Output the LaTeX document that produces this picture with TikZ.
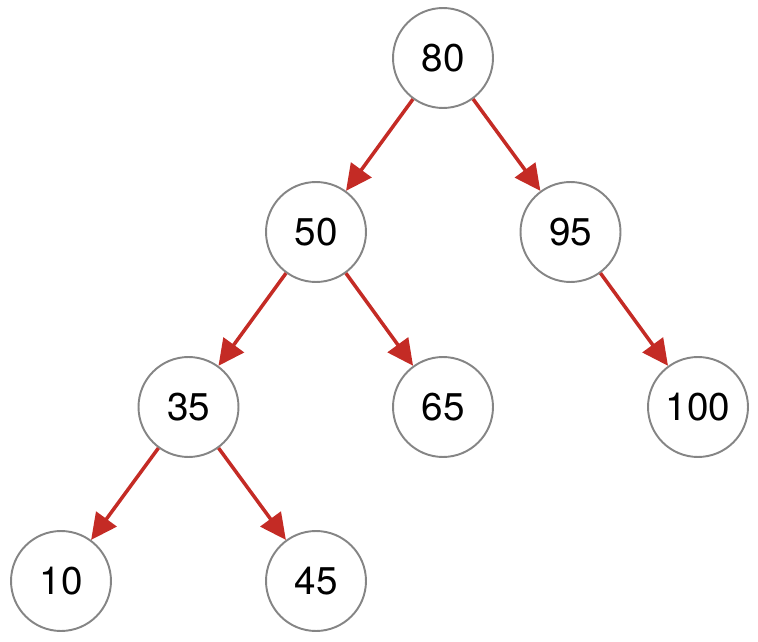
\documentclass[tikz,border=0pt]{standalone}
\usepackage{fontspec}
\setmainfont{TeX Gyre Heros}
\usetikzlibrary{arrows.meta}
\definecolor{ringgray}{HTML}{858585}
\definecolor{edgered}{HTML}{C42B25}
\tikzset{
	key/.style={circle, draw=ringgray, line width=1.1pt, fill=white, minimum size=2cm, inner sep=0pt, font=\fontsize{22}{26}\selectfont},
	child/.style={draw=edgered, line width=2pt, -{Triangle[length=0.52cm, width=0.5cm]}}
}
\begin{document}
\begin{tikzpicture}[x=0.02cm, y=-0.02cm]
		\useasboundingbox (0, 0) rectangle (758, 642);

		\node[key] (k80) at (443, 58) {80};
		\node[key] (k50) at (316, 232) {50};
		\node[key] (k95) at (570.5, 232) {95};
		\node[key] (k35) at (188.5, 407) {35};
		\node[key] (k65) at (443, 407) {65};
		\node[key] (k100) at (698, 407) {100};
		\node[key] (k10) at (61, 581) {10};
		\node[key] (k45) at (316, 581) {45};

		\draw[child] (k80) -- (k50);
		\draw[child] (k80) -- (k95);
		\draw[child] (k50) -- (k35);
		\draw[child] (k50) -- (k65);
		\draw[child] (k95) -- (k100);
		\draw[child] (k35) -- (k10);
		\draw[child] (k35) -- (k45);
	\end{tikzpicture}
\end{document}
